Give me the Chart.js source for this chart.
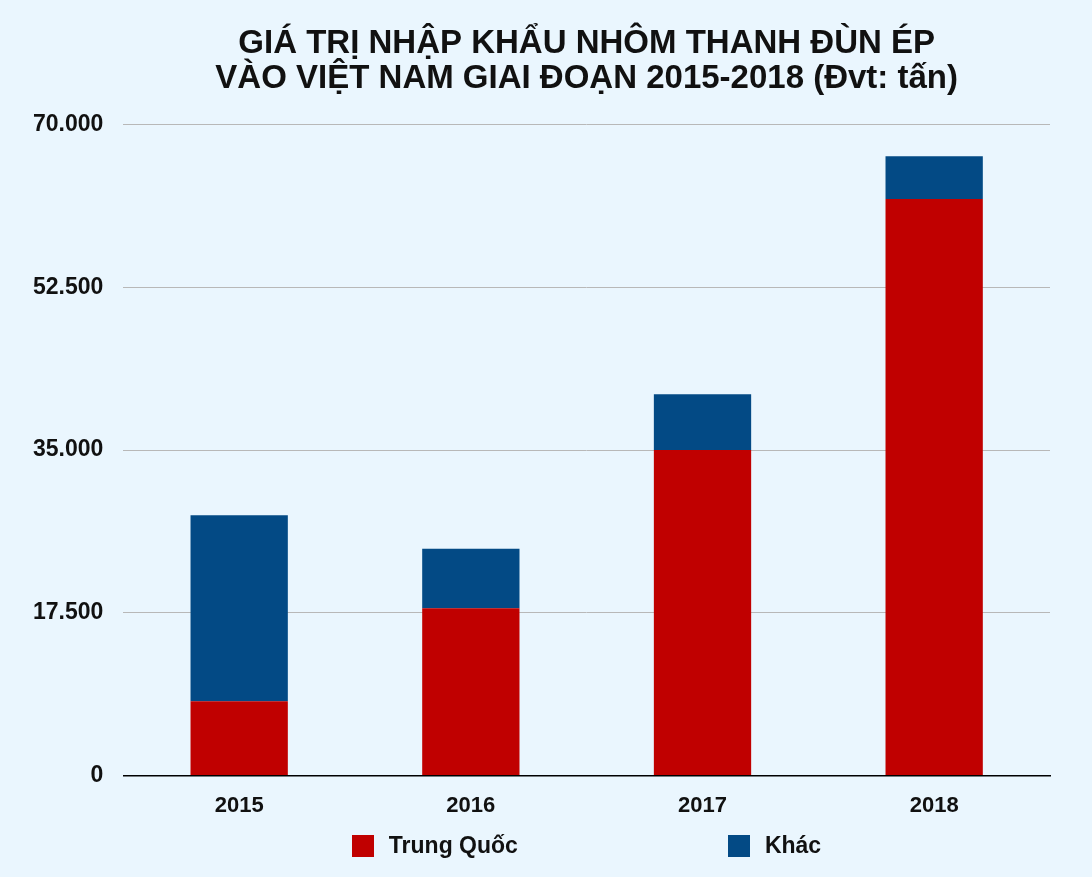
<!DOCTYPE html>
<html>
<head>
<meta charset="utf-8">
<script src="https://cdn.jsdelivr.net/npm/chart.js@4"></script>
<style>
  html, body { margin: 0; padding: 0; background: #eaf6fe; }
  #wrap { position: relative; width: 1092px; height: 877px; }
  #legend {
    position: absolute; top: 832px; left: 123px; width: 927px;
    display: flex; justify-content: center; gap: 210px;
    font: bold 23px "Liberation Sans", Arial, sans-serif; color: #111;
  }
  #legend span.item { display: flex; align-items: center; }
  #legend span.box { width: 22px; height: 22px; margin-right: 15px; display: inline-block; }
</style>
</head>
<body>
<div id="wrap">
  <canvas id="myChart" width="1092" height="877"></canvas>
  <div id="legend"></div>
</div>
<script>
// DATA
const years = ['2015', '2016', '2017', '2018'];
const trungQuoc = [8000, 18000, 35000, 62000];
const khac = [20000, 6400, 6000, 4600];
const yTicks = [0, 17500, 35000, 52500, 70000];

const FONT = '"Liberation Sans", Arial, sans-serif';
const RED = '#c00000';
const BLUE = '#034a85';

const ctx = document.getElementById('myChart');

const myChart = new Chart(ctx, {
    type: 'bar',
    data: {
        labels: years,
        datasets: [
            { label: 'Trung Quốc', data: trungQuoc, backgroundColor: RED },
            { label: 'Khác', data: khac, backgroundColor: BLUE }
        ]
    },
    options: {
        responsive: false,
        animation: false,
        datasets: {
            bar: { categoryPercentage: 1, barPercentage: 0.42 }
        },
        layout: { padding: { left: 13, right: 42, top: 0, bottom: 41 } },
        plugins: {
            legend: { display: false },
            tooltip: { enabled: false },
            title: {
                display: true,
                fullSize: false,
                text: ['GIÁ TRỊ NHẬP KHẨU NHÔM THANH ĐÙN ÉP', 'VÀO VIỆT NAM GIAI ĐOẠN 2015-2018 (Đvt: tấn)'],
                color: '#111',
                font: { family: FONT, size: 33, weight: 'bold', lineHeight: 1.07 },
                padding: { top: 26, bottom: 28 }
            }
        },
        scales: {
            x: {
                stacked: true,
                grid: { display: false, drawTicks: false },
                border: { display: true, color: '#000', width: 1.5 },
                ticks: { color: '#111', font: { family: FONT, size: 22, weight: 'bold' }, padding: 17 }
            },
            y: {
                stacked: true,
                min: 0,
                max: 70000,
                afterBuildTicks: (axis) => { axis.ticks = yTicks.map(v => ({ value: v })); },
                grid: { color: '#b8b8b8', lineWidth: 1, drawTicks: false },
                border: { display: false },
                ticks: {
                    color: '#111',
                    padding: 20,
                    font: { family: FONT, size: 23, weight: 'bold' },
                    callback: (v) => v.toLocaleString('de-DE')
                }
            }
        }
    }
});

// HTML legend built from the chart datasets
const legendEl = document.getElementById('legend');
myChart.data.datasets.forEach(ds => {
    const item = document.createElement('span');
    item.className = 'item';
    const box = document.createElement('span');
    box.className = 'box';
    box.style.background = ds.backgroundColor;
    item.appendChild(box);
    item.appendChild(document.createTextNode(ds.label));
    legendEl.appendChild(item);
});
</script>
</body>
</html>
